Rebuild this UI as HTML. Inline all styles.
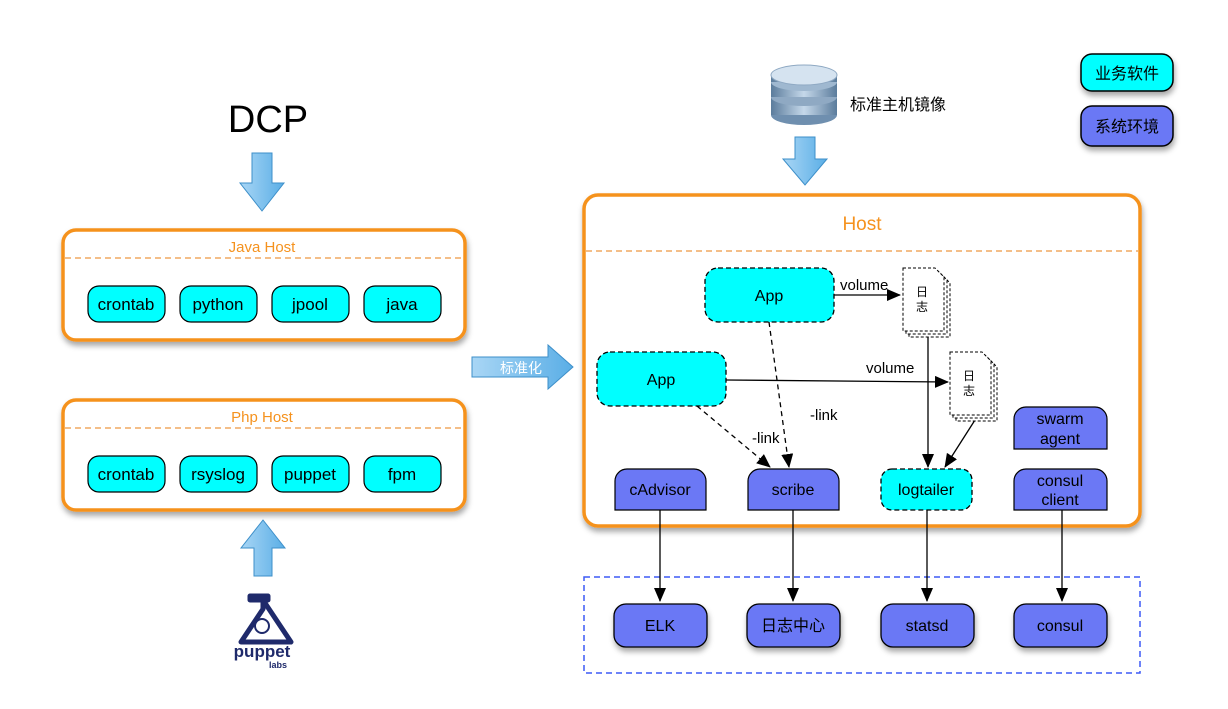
<!DOCTYPE html>
<html><head><meta charset="utf-8"><style>
html,body{margin:0;padding:0;background:#fff;}
text{font-family:"Liberation Sans","Noto Sans CJK SC",sans-serif;}
</style></head><body>
<svg width="1228" height="704" viewBox="0 0 1228 704" xmlns="http://www.w3.org/2000/svg">
<defs>
<filter id="sh" x="-10%" y="-10%" width="130%" height="140%"><feDropShadow dx="1" dy="4" stdDeviation="3" flood-color="#000" flood-opacity="0.35"/></filter>
<linearGradient id="ba" x1="0" y1="0" x2="1" y2="0"><stop offset="0" stop-color="#a9d6f5"/><stop offset="1" stop-color="#5aaee6"/></linearGradient>
<linearGradient id="db" x1="0" y1="0" x2="1" y2="0"><stop offset="0" stop-color="#5b7c9c"/><stop offset="0.5" stop-color="#c5d8ea"/><stop offset="1" stop-color="#5b7c9c"/></linearGradient>
<marker id="ar" markerWidth="14" markerHeight="12" refX="13" refY="6" orient="auto" markerUnits="userSpaceOnUse"><path d="M0,0 L14,6 L0,12 z" fill="#000"/></marker>
</defs>

<text x="268" y="132" font-size="38" text-anchor="middle" fill="#000">DCP</text>
<path d="M252,153 h20 v30 h12 l-22,28 l-22,-28 h12 z" fill="url(#ba)" stroke="#3d8fc9" stroke-width="1"/>

<rect x="63" y="230" width="402" height="110" rx="13" fill="#fff" stroke="#f5921e" stroke-width="3.5" filter="url(#sh)"/>
<text x="262" y="252" font-size="15" text-anchor="middle" fill="#f5921e">Java Host</text>
<line x1="65" y1="258" x2="463" y2="258" stroke="#f0a860" stroke-width="1.5" stroke-dasharray="6,4"/>
<g font-size="17" text-anchor="middle" fill="#000">
<rect x="88" y="286" width="77" height="36" rx="11" fill="#00ffff" stroke="#000" stroke-width="1.2"/><text x="126" y="310">crontab</text>
<rect x="180" y="286" width="77" height="36" rx="11" fill="#00ffff" stroke="#000" stroke-width="1.2"/><text x="218" y="310">python</text>
<rect x="272" y="286" width="77" height="36" rx="11" fill="#00ffff" stroke="#000" stroke-width="1.2"/><text x="310" y="310">jpool</text>
<rect x="364" y="286" width="77" height="36" rx="11" fill="#00ffff" stroke="#000" stroke-width="1.2"/><text x="402" y="310">java</text>
</g>

<rect x="63" y="400" width="402" height="110" rx="13" fill="#fff" stroke="#f5921e" stroke-width="3.5" filter="url(#sh)"/>
<text x="262" y="422" font-size="15" text-anchor="middle" fill="#f5921e">Php Host</text>
<line x1="65" y1="428" x2="463" y2="428" stroke="#f0a860" stroke-width="1.5" stroke-dasharray="6,4"/>
<g font-size="17" text-anchor="middle" fill="#000">
<rect x="88" y="456" width="77" height="36" rx="11" fill="#00ffff" stroke="#000" stroke-width="1.2"/><text x="126" y="480">crontab</text>
<rect x="180" y="456" width="77" height="36" rx="11" fill="#00ffff" stroke="#000" stroke-width="1.2"/><text x="218" y="480">rsyslog</text>
<rect x="272" y="456" width="77" height="36" rx="11" fill="#00ffff" stroke="#000" stroke-width="1.2"/><text x="310" y="480">puppet</text>
<rect x="364" y="456" width="77" height="36" rx="11" fill="#00ffff" stroke="#000" stroke-width="1.2"/><text x="402" y="480">fpm</text>
</g>

<path d="M254,576 h18 v-28 h13 l-22,-28 l-22,28 h13 z" fill="url(#ba)" stroke="#3d8fc9" stroke-width="1"/>

<g fill="#1f2a6b">
<path d="M250,596 h18 v4 h-5 l28,42 h-50 l22,-33 v-9 h-13 z" fill="none" stroke="#1f2a6b" stroke-width="5" stroke-linejoin="round"/>
<circle cx="262" cy="626" r="7" fill="none" stroke="#1f2a6b" stroke-width="2"/>
<text x="262" y="657" font-size="17" font-weight="bold" text-anchor="middle">puppet</text>
<text x="278" y="668" font-size="9" font-weight="bold" text-anchor="middle">labs</text>
</g>

<path d="M472,357 h76 v-12 l25,22 l-25,22 v-12 h-76 z" fill="url(#ba)" stroke="#3d8fc9" stroke-width="1"/>
<text x="521" y="373" font-size="14" text-anchor="middle" fill="#fff">标准化</text>

<g>
<ellipse cx="804" cy="115" rx="33" ry="10" fill="#6f8faf"/>
<rect x="771" y="97" width="66" height="18" fill="url(#db)"/>
<ellipse cx="804" cy="97" rx="33" ry="9" fill="#8fa9c3"/>
<rect x="771" y="82" width="66" height="15" fill="url(#db)"/>
<ellipse cx="804" cy="82" rx="33" ry="9" fill="#9fb8d0"/>
<rect x="771" y="75" width="66" height="7" fill="url(#db)"/>
<ellipse cx="804" cy="75" rx="33" ry="10" fill="#d5e3f0" stroke="#8fa9c3"/>
</g>
<text x="850" y="110" font-size="16" fill="#000">标准主机镜像</text>
<path d="M795,137 h20 v22 h12 l-22,26 l-22,-26 h12 z" fill="url(#ba)" stroke="#3d8fc9" stroke-width="1"/>

<rect x="1081" y="54" width="92" height="37" rx="11" fill="#00ffff" stroke="#000" stroke-width="1.5" filter="url(#sh)"/>
<text x="1127" y="79" font-size="16" text-anchor="middle">业务软件</text>
<rect x="1081" y="106" width="92" height="40" rx="11" fill="#6b78f5" stroke="#000" stroke-width="1.5" filter="url(#sh)"/>
<text x="1127" y="132" font-size="16" text-anchor="middle">系统环境</text>

<rect x="584" y="195" width="556" height="331" rx="14" fill="#fff" stroke="#f5921e" stroke-width="3.5" filter="url(#sh)"/>
<text x="862" y="230" font-size="19" text-anchor="middle" fill="#f5921e">Host</text>
<line x1="586" y1="251" x2="1138" y2="251" stroke="#f0a860" stroke-width="1.5" stroke-dasharray="6,4"/>

<rect x="584" y="577" width="556" height="96" fill="none" stroke="#3d5af5" stroke-width="1.5" stroke-dasharray="6,4"/>

<g stroke="#000" stroke-width="1.3" fill="none">
<line x1="834" y1="295" x2="900" y2="295" marker-end="url(#ar)"/>
<line x1="726" y1="380" x2="948" y2="382" marker-end="url(#ar)"/>
<line x1="769" y1="322" x2="789" y2="467" stroke-dasharray="5,4" marker-end="url(#ar)"/>
<line x1="697" y1="406" x2="770" y2="467" stroke-dasharray="5,4" marker-end="url(#ar)"/>
<line x1="928" y1="335" x2="928" y2="467" marker-end="url(#ar)"/>
<line x1="975" y1="420" x2="945" y2="467" marker-end="url(#ar)"/>
<line x1="660" y1="510" x2="660" y2="601" marker-end="url(#ar)"/>
<line x1="793" y1="510" x2="793" y2="601" marker-end="url(#ar)"/>
<line x1="927" y1="510" x2="927" y2="601" marker-end="url(#ar)"/>
<line x1="1062" y1="510" x2="1062" y2="601" marker-end="url(#ar)"/>
</g>
<g font-size="15" fill="#000">
<text x="840" y="290">volume</text>
<text x="866" y="373">volume</text>
<text x="810" y="420">-link</text>
<text x="752" y="443">-link</text>
</g>

<rect x="705" y="268" width="129" height="54" rx="13" fill="#00ffff" stroke="#000" stroke-width="1.3" stroke-dasharray="5,3"/>
<text x="769" y="301" font-size="16" text-anchor="middle">App</text>
<rect x="597" y="352" width="129" height="54" rx="13" fill="#00ffff" stroke="#000" stroke-width="1.3" stroke-dasharray="5,3"/>
<text x="661" y="385" font-size="16" text-anchor="middle">App</text>

<g fill="#fff" stroke="#000" stroke-width="1" stroke-dasharray="3,2">
<path d="M909,274 h32 l9,9 v54 h-41 z"/>
<path d="M906,271 h32 l9,9 v54 h-41 z"/>
<path d="M903,268 h32 l9,9 v54 h-41 z"/>
<path d="M956,358 h32 l9,9 v54 h-41 z"/>
<path d="M953,355 h32 l9,9 v54 h-41 z"/>
<path d="M950,352 h32 l9,9 v54 h-41 z"/>
</g>
<text x="922" y="296" font-size="12" text-anchor="middle">日</text>
<text x="922" y="311" font-size="12" text-anchor="middle">志</text>
<text x="969" y="380" font-size="12" text-anchor="middle">日</text>
<text x="969" y="395" font-size="12" text-anchor="middle">志</text>

<g stroke="#000" stroke-width="1.2" fill="#6b78f5">
<path d="M615,510 v-29 a12,12 0 0 1 12,-12 h67 a12,12 0 0 1 12,12 v29 z"/>
<path d="M748,510 v-29 a12,12 0 0 1 12,-12 h67 a12,12 0 0 1 12,12 v29 z"/>
<path d="M1014,510 v-29 a12,12 0 0 1 12,-12 h69 a12,12 0 0 1 12,12 v29 z"/>
<path d="M1014,449 v-30 a12,12 0 0 1 12,-12 h69 a12,12 0 0 1 12,12 v30 z"/>
</g>
<rect x="881" y="469" width="91" height="41" rx="11" fill="#00ffff" stroke="#000" stroke-width="1.3" stroke-dasharray="5,3"/>
<g font-size="16" text-anchor="middle" fill="#000">
<text x="660" y="495">cAdvisor</text>
<text x="793" y="495">scribe</text>
<text x="926" y="495">logtailer</text>
<text x="1060" y="486">consul</text>
<text x="1060" y="505">client</text>
<text x="1060" y="424">swarm</text>
<text x="1060" y="444">agent</text>
</g>

<g stroke="#000" stroke-width="1.3" fill="#6b78f5" filter="url(#sh)">
<rect x="614" y="604" width="93" height="43" rx="12"/>
<rect x="747" y="604" width="93" height="43" rx="12"/>
<rect x="881" y="604" width="93" height="43" rx="12"/>
<rect x="1014" y="604" width="93" height="43" rx="12"/>
</g>
<g font-size="16" text-anchor="middle" fill="#000">
<text x="660" y="631">ELK</text>
<text x="793" y="631">日志中心</text>
<text x="927" y="631">statsd</text>
<text x="1060" y="631">consul</text>
</g>
</svg>
</body></html>
